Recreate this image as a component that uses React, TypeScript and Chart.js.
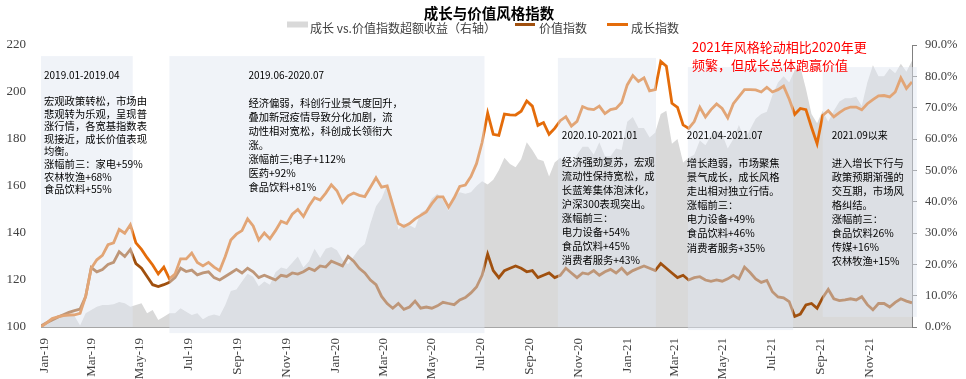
import React, { useEffect, useRef } from "react";
import { Chart, registerables } from "chart.js";

Chart.register(...registerables);

// ---------------- data ----------------
const firstWeek = "2018-12-28";
const lastWeek = "2021-12-24";

const growthIndex = [
  100, 101.8, 103.6, 104.3, 104.8, 105.1, 105.2, 105.8, 113, 125,
  128.6, 130.5, 135, 135.8, 141.5, 139.9, 143.5, 135.8, 133, 129.5,
  126.4, 122.6, 125.5, 120.5, 122.5, 129, 129, 131.5, 127.5, 126,
  127.5, 125.5, 124, 130, 137, 139.5, 141, 146, 143, 137,
  140, 137.5, 141, 145, 144, 148, 150, 147, 151.5, 155,
  154, 157, 160.5, 158, 153, 155.8, 157, 156, 155.5, 159.5,
  163.5, 159.5, 160, 152, 144, 142.8, 144, 146, 147.5, 149,
  152.5, 155.4, 155.4, 151, 155, 159.8, 160.4, 164, 169.5, 178.5,
  191, 182, 181.5, 190.6, 190.3, 190.2, 191.8, 196.2, 194, 185.8,
  187, 182, 184.5, 187.8, 189.5, 185.5, 187.5, 193.8, 192.8, 192.5,
  194, 190.8, 192.5, 193, 195.5, 203, 207, 204.5, 206, 200.5,
  201, 213, 211, 195.2, 193.5, 186, 184.5, 187.4, 193.5, 189.4,
  192.5, 194.9, 193, 189, 195, 198, 201, 201, 200.9, 200,
  202, 200, 201, 202.5, 197, 190.5, 193, 192.5, 185, 178,
  190, 192, 189.4, 191.2, 192.8, 193.6, 193.6, 192.4, 195, 196.8,
  198.4, 198.5, 197.9, 200, 206, 201.5, 204.3,
];

const valueIndex = [
  100.5, 101.8, 103, 104.2, 105.2, 106.2, 107, 107.6, 113, 125.3,
  123.5, 124.5, 126.6, 127.5, 132, 130, 133, 127, 125, 121.5,
  118, 117.2, 118, 119, 121, 125, 123.6, 124.2, 122.2, 123,
  123.5, 121, 120, 121.5, 123, 124.5, 123, 125, 123.5, 121,
  122, 121, 120, 122, 121.5, 123, 122.5, 123.5, 125, 124,
  126, 125.5, 128, 127, 126, 130, 128, 125, 123, 120,
  118, 113, 110, 108, 110, 107.5, 108.5, 111, 108, 108.5,
  108, 109, 110.5, 110, 109.5, 111.5, 112.5, 114.5, 117, 122,
  131, 124, 121, 124, 125, 126, 125, 123.5, 124, 121,
  122, 123, 121, 122, 125, 123, 121, 123, 122.5, 124,
  122, 123.5, 124.5, 123, 125, 122.5, 124, 125, 126, 125,
  124, 127, 125, 123, 121, 122, 120, 121, 121.4, 120,
  119.4, 120, 119.5, 120.5, 122, 120.5, 125.5, 123.2, 120.5, 119,
  119.8, 115, 112.8, 112.4, 110.8, 104.5, 105.5, 109.4, 110, 108,
  112.5, 116, 112, 111.2, 111.5, 112, 111.5, 112.9, 109.5, 107.3,
  110, 110, 108.5, 110.5, 112, 111, 110.3,
];

// growth vs. value excess return, % (right axis)
const excessReturn = [
  0, 1.5, 2.5, 3, 3.3, 3.8, 3.5, 0.5, 4.4, 5.4,
  6.5, 7, 7, 7.3, 8, 7.6, 6.5, 7, 7.6, 4.4,
  5.4, 2.2, 3.3, 4.4, 4.4, 6, 4.9, 3.8, 4.4, 2.5,
  3.5, 4, 3.5, 7, 11.5, 12, 14.5, 17, 16, 13,
  14.5, 13.5, 17.5, 19, 18.5, 20.5, 22.5, 19, 21, 25,
  22, 25, 25.5, 24.5, 21.5, 20, 22.5, 25, 26.5, 33,
  38.5, 41, 45.5, 40.5, 31, 33, 32.5, 31.5, 36.5, 37.5,
  41, 42.5, 40.5, 37, 41.5, 43, 42.5, 43, 45, 46.5,
  45.5, 47, 50, 54, 52, 51, 53.5, 59, 56.5, 53.5,
  53, 48, 52.5, 54, 51.5, 51, 55, 57.5, 57.5, 55,
  59, 54.5, 54.5, 57, 56.5, 65.5, 67, 63.5, 63.5, 60.5,
  62, 68, 69, 58.5, 60, 52.5, 54, 55, 59.5, 58,
  61, 62.5, 61.5, 57, 60, 64.5, 60, 63, 66.5, 68,
  68.7, 74, 78, 80, 78, 82, 83, 76, 68, 65,
  69, 65.5, 69, 72, 73, 73, 73.5, 70.5, 78, 83.5,
  80, 80, 82.5, 81, 84, 81.5, 85,
];

const monthTickLabels = [
  "Jan-19", "Mar-19", "May-19", "Jul-19", "Sep-19", "Nov-19",
  "Jan-20", "Mar-20", "May-20", "Jul-20", "Sep-20", "Nov-20",
  "Jan-21", "Mar-21", "May-21", "Jul-21", "Sep-21", "Nov-21",
];

const leftTicks = { min: 100, max: 220, step: 20 };
const rightTicks = { min: 0, max: 90, step: 10 };

const titleText = "成长与价值风格指数";
const legendExcess = "成长 vs.价值指数超额收益（右轴）";
const legendValue = "价值指数";
const legendGrowth = "成长指数";
const noteLines = ["2021年风格轮动相比2020年更", "频繁，但成长总体跑赢价值"];

const periods = [
  {
    from: "2018-12-28", to: "2019-04-22", top: 215.3, bottom: 100,
    header: "2019.01-2019.04",
    lines: ["宏观政策转松，市场由", "悲观转为乐观，呈现普", "涨行情，各宽基指数表", "现接近，成长价值表现", "均衡。", "涨幅前三：家电+59%", "农林牧渔+68%", "食品饮料+55%"],
  },
  {
    from: "2019-06-07", to: "2020-07-06", top: 215.3, bottom: 97.4,
    header: "2019.06-2020.07",
    lines: ["经济偏弱，科创行业景气度回升，", "叠加新冠疫情导致分化加剧，流", "动性相对宽松，科创成长领衔大", "涨。", "涨幅前三;电子+112%", "医药+92%", "食品饮料+81%"],
  },
  {
    from: "2020-10-06", to: "2021-02-06", top: 214.5, bottom: 100,
    header: "2020.10-2021.01",
    lines: ["经济强劲复苏，宏观", "流动性保持宽松，成", "长蓝筹集体泡沫化，", "沪深300表现突出。", "涨幅前三：", "电力设备+54%", "食品饮料+45%", "消费者服务+43%"],
  },
  {
    from: "2021-03-18", to: "2021-07-28", top: 210.6, bottom: 98.7,
    header: "2021.04-2021.07",
    lines: ["增长趋弱，市场聚焦", "景气成长，成长风格", "走出相对独立行情。", "涨幅前三：", "电力设备+49%", "食品饮料+46%", "消费者服务+35%"],
  },
  {
    from: "2021-09-03", to: "2021-12-30", top: 210.6, bottom: 104.3,
    header: "2021.09以来",
    lines: ["进入增长下行与", "政策预期渐强的", "交互期，市场风", "格纠结。", "涨幅前三：", "食品饮料26%", "传媒+16%", "农林牧渔+15%"],
  },
];

// text layout per period (pixels, relative to box)
const periodText = [
  { dx: 3, headerY: 75, bodyY: 101, lh: 12.6 },
  { dx: 79, headerY: 75, bodyY: 103, lh: 14 },
  { dx: 4, headerY: 135, bodyY: 162, lh: 14 },
  { dx: -1, headerY: 135, bodyY: 163, lh: 14.1 },
  { dx: 9, headerY: 135, bodyY: 163, lh: 14 },
];

// ---------------- helpers ----------------
const DAY0 = Date.UTC(2019, 0, 1);
const MONTHS = ["Jan", "Feb", "Mar", "Apr", "May", "Jun", "Jul", "Aug", "Sep", "Oct", "Nov", "Dec"];
function dayOf(s: string): number {
  const [y, m, d] = s.split("-").map(Number);
  return (Date.UTC(y, m - 1, d) - DAY0) / 86400000;
}
function dayOfMonthLabel(label: string): number {
  const [m, y] = label.split("-");
  return (Date.UTC(2000 + Number(y), MONTHS.indexOf(m), 1) - DAY0) / 86400000;
}
const startDay = dayOf(firstWeek);
const weekX = (i: number) => startDay + 7 * i;
const tickDays = monthTickLabels.map(dayOfMonthLabel);

const CJK = '"Noto Sans CJK SC", "Noto Sans", sans-serif';
const SERIF = '"Liberation Serif", "DejaVu Serif", serif';

const GROWTH_COLOR = "#E46C0A";
const VALUE_COLOR = "#A0500E";
const AREA_COLOR = "#D9D9D9";
const BOX_FILL = "rgba(223,230,240,0.47)";

const overlayPlugin = {
  id: "overlayPlugin",
  afterDatasetsDraw(chart: any) {
    const { ctx, scales } = chart;
    const xs = scales.x;
    const ys = scales.y;
    ctx.save();
    ctx.fillStyle = BOX_FILL;
    for (const p of periods) {
      const x0 = xs.getPixelForValue(dayOf(p.from));
      const x1 = xs.getPixelForValue(dayOf(p.to));
      const y0 = ys.getPixelForValue(p.top);
      const y1 = ys.getPixelForValue(p.bottom);
      ctx.fillRect(x0, y0, x1 - x0, y1 - y0);
    }
    ctx.restore();
  },
  afterDraw(chart: any) {
    const { ctx, scales } = chart;
    const xs = scales.x;
    ctx.save();
    // title
    ctx.fillStyle = "#000";
    ctx.font = `bold 14.5px ${CJK}`;
    ctx.textAlign = "center";
    ctx.textBaseline = "middle";
    ctx.fillText(titleText, 489, 13);

    // legend
    ctx.textAlign = "left";
    ctx.font = `12px ${CJK}`;
    ctx.fillStyle = AREA_COLOR;
    ctx.fillRect(287, 21.5, 21, 6);
    ctx.fillStyle = "#404040";
    ctx.fillText(legendExcess, 310, 28);
    ctx.strokeStyle = VALUE_COLOR;
    ctx.lineWidth = 3;
    ctx.beginPath();
    ctx.moveTo(515, 24.5);
    ctx.lineTo(535, 24.5);
    ctx.stroke();
    ctx.fillText(legendValue, 539, 28);
    ctx.strokeStyle = GROWTH_COLOR;
    ctx.beginPath();
    ctx.moveTo(607, 24.5);
    ctx.lineTo(628, 24.5);
    ctx.stroke();
    ctx.fillText(legendGrowth, 631, 28);

    // red note
    ctx.fillStyle = "#FF0000";
    ctx.font = `13px ${CJK}`;
    ctx.fillText(noteLines[0], 692, 47);
    ctx.fillText(noteLines[1], 692, 65);

    // period texts
    ctx.fillStyle = "#000";
    periods.forEach((p, k) => {
      const t = periodText[k];
      const x = xs.getPixelForValue(dayOf(p.from)) + t.dx;
      ctx.font = `10px ${CJK}`;
      ctx.fillText(p.header, x, t.headerY);
      ctx.font = `10.3px ${CJK}`;
      p.lines.forEach((line, j) => {
        ctx.fillText(line, x, t.bodyY + j * t.lh);
      });
    });
    ctx.restore();
  },
};

export default function App() {
  const canvasRef = useRef<HTMLCanvasElement | null>(null);

  useEffect(() => {
    document.body.style.margin = "0";
    const canvas = canvasRef.current;
    if (!canvas) return;

    const toPoints = (arr: number[]) => arr.map((v, i) => ({ x: weekX(i), y: v }));

    const chart = new Chart(canvas, {
      type: "line",
      data: {
        datasets: [
          {
            label: legendGrowth,
            data: toPoints(growthIndex),
            borderColor: GROWTH_COLOR,
            borderWidth: 2.8,
            pointRadius: 0,
            fill: false,
            yAxisID: "y",
            order: 0,
          },
          {
            label: legendValue,
            data: toPoints(valueIndex),
            borderColor: VALUE_COLOR,
            borderWidth: 2.8,
            pointRadius: 0,
            fill: false,
            yAxisID: "y",
            order: 1,
          },
          {
            label: legendExcess,
            data: toPoints(excessReturn),
            borderColor: AREA_COLOR,
            backgroundColor: AREA_COLOR,
            borderWidth: 0,
            pointRadius: 0,
            fill: "origin",
            yAxisID: "y1",
            order: 2,
          },
        ],
      },
      options: {
        responsive: false,
        animation: false,
        events: [],
        layout: { padding: { top: 45, left: 0, right: 0, bottom: 0 } },
        plugins: {
          legend: { display: false },
          title: { display: false },
          tooltip: { enabled: false },
        },
        elements: { line: { tension: 0 }, point: { radius: 0 } },
        scales: {
          x: {
            type: "linear",
            min: startDay,
            max: dayOf(lastWeek),
            afterBuildTicks: (scale: any) => {
              scale.ticks = tickDays.map((v) => ({ value: v }));
            },
            afterFit: (scale: any) => {
              scale.height = 52;
            },
            ticks: {
              autoSkip: false,
              maxRotation: 90,
              minRotation: 90,
              padding: 11,
              color: "#404040",
              font: { family: SERIF, size: 13 },
              callback: (v: any) => {
                const k = tickDays.indexOf(Number(v));
                return k >= 0 ? monthTickLabels[k] : "";
              },
            },
            grid: { display: false, drawTicks: false },
            border: { display: true, color: "#A6A6A6", width: 1 },
          },
          y: {
            position: "left",
            min: leftTicks.min,
            max: leftTicks.max,
            afterFit: (scale: any) => {
              scale.width = 41;
            },
            ticks: {
              stepSize: leftTicks.step,
              padding: 15,
              color: "#404040",
              font: { family: SERIF, size: 13 },
            },
            grid: { display: false, drawTicks: false },
            border: { display: false },
          },
          y1: {
            position: "right",
            min: rightTicks.min,
            max: rightTicks.max,
            afterFit: (scale: any) => {
              scale.width = 54;
            },
            ticks: {
              stepSize: rightTicks.step,
              padding: 8,
              color: "#404040",
              font: { family: SERIF, size: 12.5 },
              callback: (v: any) => Number(v).toFixed(1) + "%",
            },
            grid: { drawOnChartArea: false, drawTicks: true, tickLength: 5, color: "#808080" },
            border: { display: true, color: "#808080", width: 1 },
          },
        },
      },
      plugins: [overlayPlugin],
    } as any);

    return () => chart.destroy();
  }, []);

  return (
    <div style={{ width: 966, height: 379, position: "relative" }}>
      <canvas ref={canvasRef} width={966} height={379} style={{ display: "block" }} />
    </div>
  );
}
